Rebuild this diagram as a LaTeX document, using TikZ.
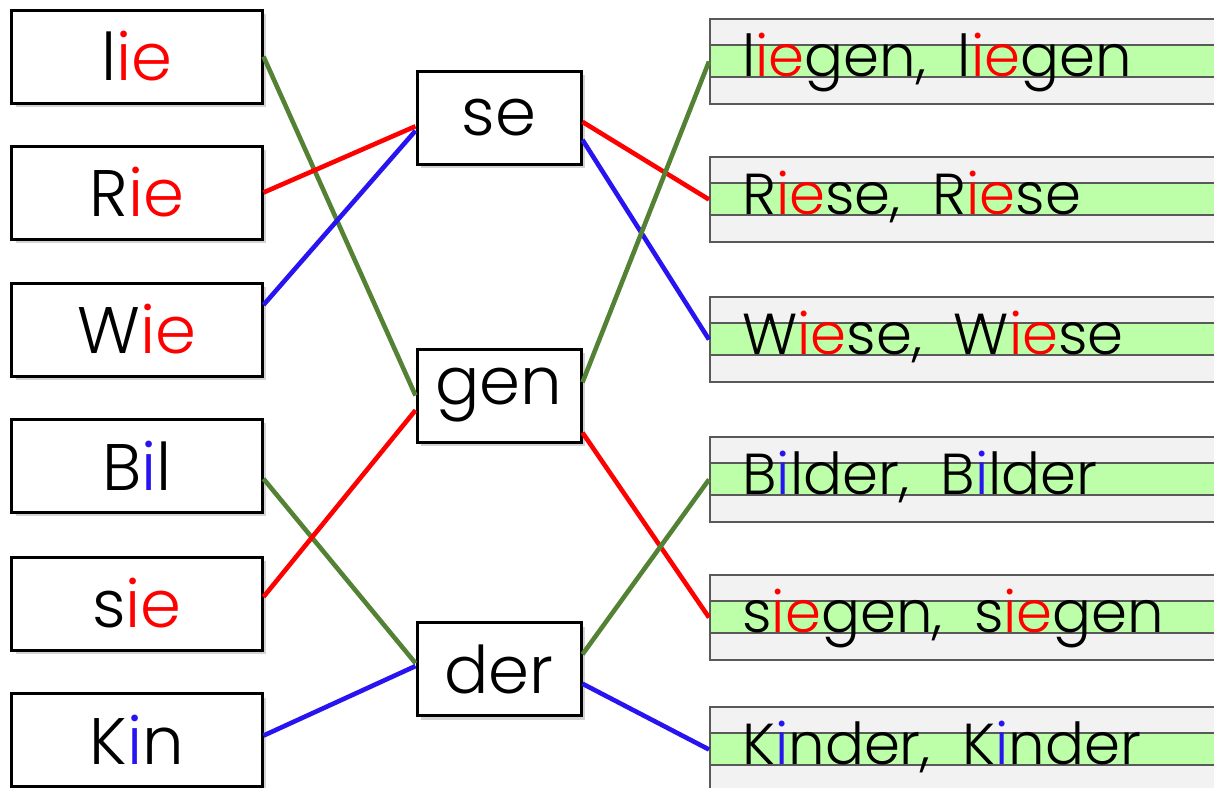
\documentclass[tikz,border=0pt]{standalone}
\usepackage{fontspec}
\setmainfont{Poppins}[UprightFont={* Light}]
\usetikzlibrary{shadows}

\definecolor{vred}{RGB}{255,0,0}
\definecolor{vblue}{RGB}{40,20,240}
\definecolor{vgreen}{RGB}{84,130,53}
\definecolor{band}{RGB}{188,255,168}
\definecolor{paper}{RGB}{242,242,242}
\newcommand{\ri}[1]{\textcolor{vred}{#1}}
\newcommand{\bi}[1]{\textcolor{vblue}{#1}}

\begin{document}
\begin{tikzpicture}[x=0.5bp,y=-0.5bp,
  syl/.style={draw,line width=1.5bp,fill=white,minimum width=125bp,
    minimum height=46.5bp,inner sep=0pt,font=\fontsize{33}{36}\selectfont,
    drop shadow={opacity=0.35,shadow xshift=2bp,shadow yshift=-2bp}},
  mid/.style={syl,minimum width=82bp},
  ruled/.style={draw=black!65,line width=1bp,fill=paper,anchor=north west,
    minimum width=270bp,minimum height=42.5bp,inner sep=0pt,
    path picture={
      \fill[band] ([yshift=-13bp]path picture bounding box.north west)
        rectangle ([yshift=-29bp]path picture bounding box.north east);
      \draw[black!65,line width=1bp]
        ([yshift=-13bp]path picture bounding box.north west) --
        ([yshift=-13bp]path picture bounding box.north east)
        ([yshift=-29bp]path picture bounding box.north west) --
        ([yshift=-29bp]path picture bounding box.north east);}},
  word/.style={anchor=base west,inner sep=0pt,font=\fontsize{29}{33}\selectfont},
  link/.style={line width=2.3bp}]

  \useasboundingbox (0,0) rectangle (1214,787);
  \clip (0,0) rectangle (1214,787);

  % syllables on the left
  \node[syl] (lie) at (137,56.5) {l\ri{ie}};
  \node[syl] (Rie) at (137,192.5) {R\ri{ie}};
  \node[syl] (Wie) at (137,329.5) {W\ri{ie}};
  \node[syl] (Bil) at (137,465.5) {B\bi{i}l};
  \node[syl] (sie) at (137,603.5) {s\ri{ie}};
  \node[syl] (Kin) at (137,740) {K\bi{i}n};

  % endings in the middle
  \node[mid] (se) at (499,117.5) {se};
  \node[mid] (gen) at (499,395.5) {gen};
  \node[mid] (der) at (499,669) {der};

  % ruled lines on the right
  \foreach \t/\n/\w in {18/liegen/{l\ri{ie}gen,\ \ l\ri{ie}gen},
      156/Riese/{R\ri{ie}se,\ \ R\ri{ie}se},
      296/Wiese/{W\ri{ie}se,\ \ W\ri{ie}se},
      436/Bilder/{B\bi{i}lder,\ \ B\bi{i}lder},
      574/siegen/{s\ri{ie}gen,\ \ s\ri{ie}gen},
      706/Kinder/{K\bi{i}nder,\ \ K\bi{i}nder}}{
    \node[ruled] (\n) at (709,\t) {};
    \node[word] (w\n) at (742,\t+58) {\w};
  }

  % connections
  \draw[link,vgreen] (lie.east) -- (gen.west);
  \draw[link,vred] (Rie.east) -- (se.186);
  \draw[link,vblue] (Wie.11) -- (se.189);
  \draw[link,vgreen] (Bil.-6) -- (der.176);
  \draw[link,vred] (sie.3) -- (gen.190);
  \draw[link,vblue] (Kin.2) -- (der.178);

  \draw[link,vred] (se.-3) -- (Riese.west);
  \draw[link,vblue] (se.-15) -- (Wiese.west);
  \draw[link,vgreen] (gen.9) -- (liegen.west);
  \draw[link,vred] (gen.-24) -- (siegen.west);
  \draw[link,vgreen] (der.10) -- (Bilder.west);
  \draw[link,vblue] (der.-10) -- (Kinder.west);
\end{tikzpicture}
\end{document}
